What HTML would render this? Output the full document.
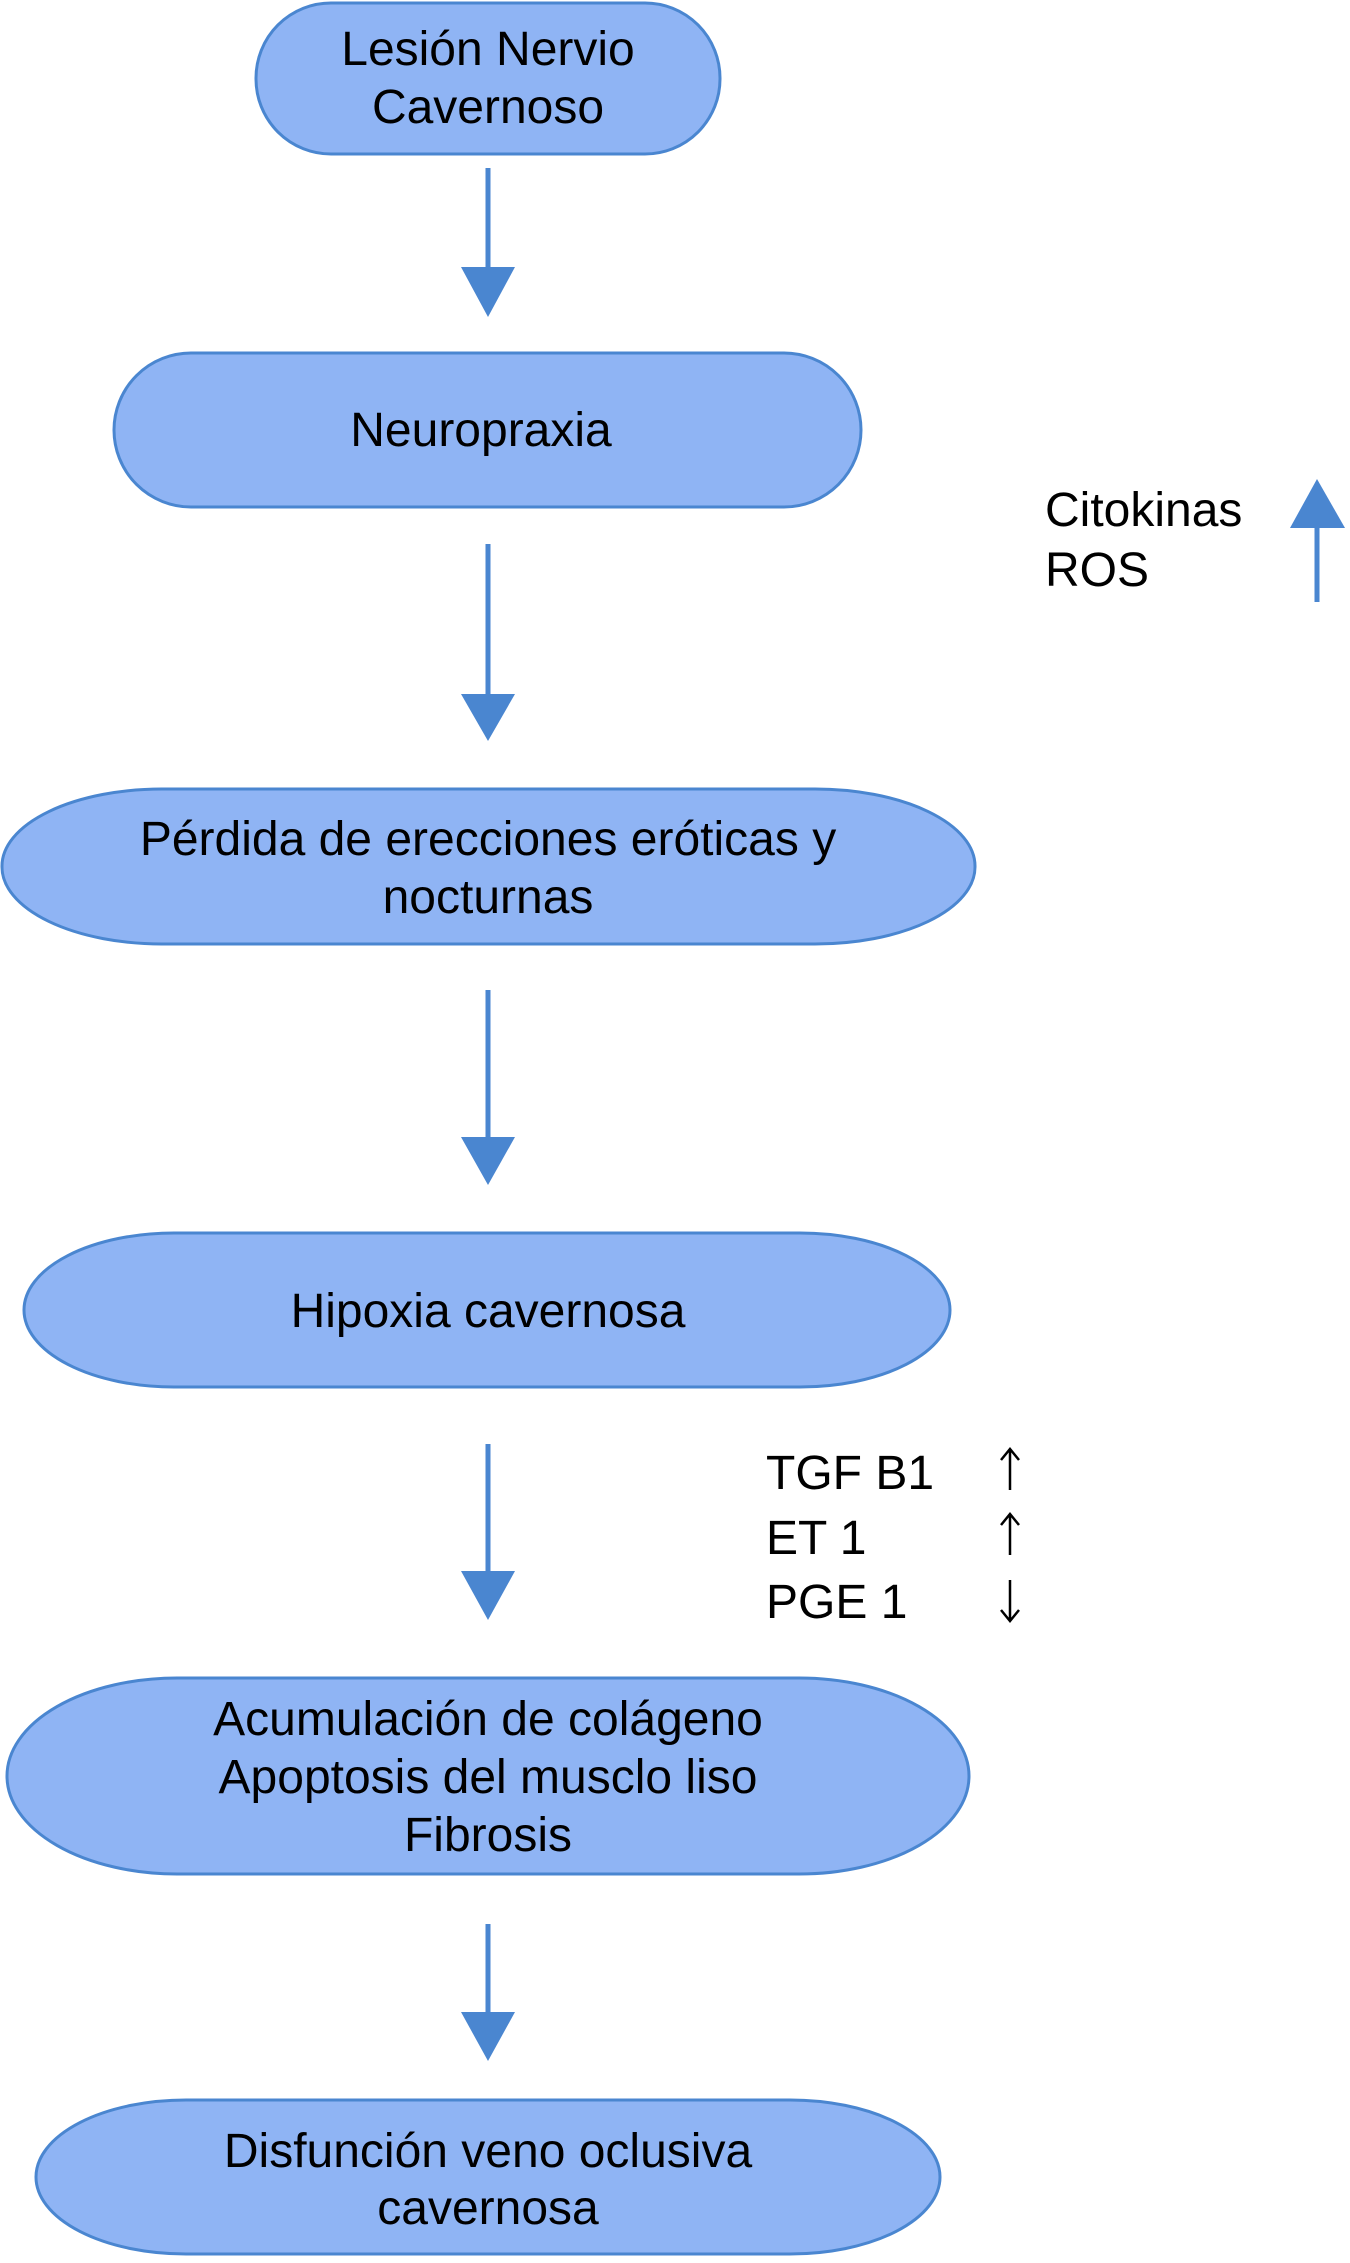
<!DOCTYPE html>
<html><head><meta charset="utf-8"><style>
html,body{margin:0;padding:0;background:#fff;}
svg{display:block;}
text{font-family:"Liberation Sans",Arial,sans-serif;font-size:48px;fill:#000;}
</style></head><body>
<svg width="1350" height="2263" viewBox="0 0 1350 2263" xmlns="http://www.w3.org/2000/svg">
<g fill="#8fb4f4" stroke="#4a86d0" stroke-width="3">
<rect x="256" y="3" width="464" height="151" rx="75" ry="75"/>
<rect x="114" y="353" width="747" height="154" rx="77" ry="77"/>
<rect x="2" y="789" width="973" height="155" rx="160" ry="77"/>
<rect x="24" y="1233" width="926" height="154" rx="150" ry="77"/>
<rect x="7" y="1678" width="962" height="196" rx="170" ry="98"/>
<rect x="36" y="2100" width="904" height="154" rx="150" ry="77"/>
</g>
<g fill="#4a86d0" stroke="#4a86d0" stroke-width="5">
<line x1="488" y1="168" x2="488" y2="270"/>
<line x1="488" y1="544" x2="488" y2="697"/>
<line x1="488" y1="990" x2="488" y2="1140"/>
<line x1="488" y1="1444" x2="488" y2="1574"/>
<line x1="488" y1="1924" x2="488" y2="2015"/>
<line x1="1317" y1="602" x2="1317" y2="525"/>
</g>
<g fill="#4a86d0">
<polygon points="461,267 515,267 488,317"/>
<polygon points="461,694 515,694 488,741"/>
<polygon points="461,1137 515,1137 488,1185"/>
<polygon points="461,1571 515,1571 488,1620"/>
<polygon points="461,2012 515,2012 488,2061"/>
<polygon points="1290,528 1345,528 1317,479"/>
</g>
<g text-anchor="middle">
<text x="488" y="65">Lesión Nervio</text>
<text x="488" y="123">Cavernoso</text>
<text x="481" y="446">Neuropraxia</text>
<text x="488" y="855">Pérdida de erecciones eróticas y</text>
<text x="488" y="913">nocturnas</text>
<text x="488" y="1327">Hipoxia cavernosa</text>
<text x="488" y="1735">Acumulación de colágeno</text>
<text x="488" y="1793">Apoptosis del musclo liso</text>
<text x="488" y="1851">Fibrosis</text>
<text x="488" y="2167">Disfunción veno oclusiva</text>
<text x="488" y="2224">cavernosa</text>
</g>
<text x="1045" y="526">Citokinas</text>
<text x="1045" y="586">ROS</text>
<text x="766" y="1489">TGF B1</text>
<text x="766" y="1554">ET 1</text>
<text x="766" y="1618">PGE 1</text>
<g stroke="#000" stroke-width="2.5" fill="none">
<path d="M1010 1490 V1450 M1001 1460 L1010 1449 L1019 1460"/>
<path d="M1010 1555 V1515 M1001 1525 L1010 1514 L1019 1525"/>
<path d="M1010 1580 V1620 M1001 1610 L1010 1621 L1019 1610"/>
</g>
</svg>
</body></html>
